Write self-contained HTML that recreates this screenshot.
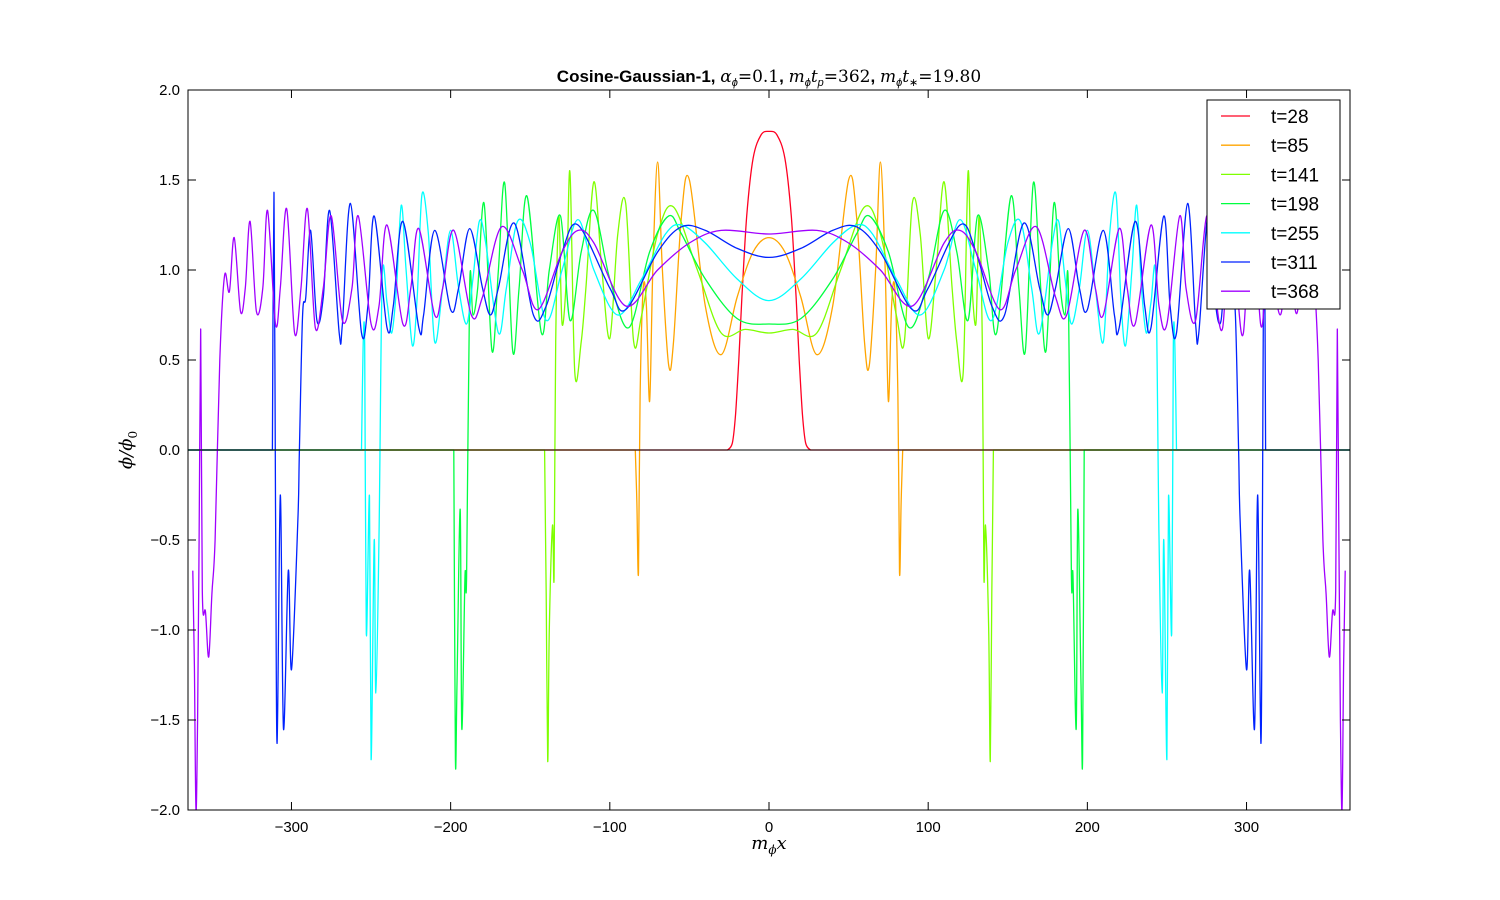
<!DOCTYPE html>
<html><head><meta charset="utf-8"><style>
body{margin:0;background:#fff;width:1500px;height:900px;overflow:hidden}
svg{display:block;font-family:"Liberation Sans","DejaVu Sans",sans-serif}
</style></head><body>
<svg id="chart" width="1500" height="900">
<rect width="1500" height="900" fill="#fff"/>
<g id="plot"></g>
<g id="axes"></g>
<text x="769" y="82" text-anchor="middle" font-size="17"><tspan font-weight="bold">Cosine-Gaussian-1, </tspan><tspan font-family="DejaVu Serif, serif" font-style="italic">α</tspan><tspan font-size="11" dy="4" font-style="italic">ϕ</tspan><tspan dy="-4" font-family="DejaVu Serif, serif">=0.1</tspan><tspan font-weight="bold">, </tspan><tspan font-family="DejaVu Serif, serif" font-style="italic">m</tspan><tspan font-size="11" dy="4" font-style="italic">ϕ</tspan><tspan dy="-4" font-family="DejaVu Serif, serif" font-style="italic">t</tspan><tspan font-size="11" dy="4" font-style="italic">p</tspan><tspan dy="-4" font-family="DejaVu Serif, serif">=362</tspan><tspan font-weight="bold">, </tspan><tspan font-family="DejaVu Serif, serif" font-style="italic">m</tspan><tspan font-size="11" dy="4" font-style="italic">ϕ</tspan><tspan dy="-4" font-family="DejaVu Serif, serif" font-style="italic">t</tspan><tspan font-size="11" dy="4">∗</tspan><tspan dy="-4" font-family="DejaVu Serif, serif">=19.80</tspan></text>
<text x="769" y="849" text-anchor="middle" font-size="18" font-family="DejaVu Serif, serif" font-style="italic">m<tspan font-size="12" dy="5">ϕ</tspan><tspan dy="-5">x</tspan></text>
<text transform="translate(132,450) rotate(-90)" text-anchor="middle" font-size="18" font-family="DejaVu Serif, serif" font-style="italic">ϕ/ϕ<tspan font-size="12" dy="5" font-style="normal">0</tspan></text>
<g id="legend"></g>
</svg>
<script>
const xTicks=[-300,-200,-100,0,100,200,300];
const yTicks=[-2.0,-1.5,-1.0,-0.5,0.0,0.5,1.0,1.5,2.0];
const labels=["t=28","t=85","t=141","t=198","t=255","t=311","t=368"];
const colors=["#ff0022","#ffa500","#7fff00","#00ff40","#00ffff","#0022ff","#a000ff"];
// half-profiles (x>=0), mirrored to negative x
const xs28=[0,5,10,14,17,19,21,23,26,365];
const ys28=[1.77,1.75,1.62,1.3,0.85,0.5,0.2,0.04,0,0];
const xs85=[0,10,20,30,40,50,55,60,63,67,70,73,75,77,79,81,82,83,84,365];
const ys85=[1.18,1.1,0.85,0.53,0.8,1.5,1.3,0.6,0.47,1.0,1.6,1.0,0.27,0.8,0.9,0.3,-0.68,-0.3,0,0];
const xs141=[0,15,30,45,60,70,80,85,90,95,100,105,110,115,118,122,125,127,130,132,134,135,136,138,139,140,141,365];
const ys141=[0.65,0.67,0.65,1.0,1.35,1.2,0.75,0.6,1.37,1.2,0.62,1.0,1.49,0.9,0.6,0.43,1.54,1.0,0.7,1.3,0.6,-0.7,-0.42,-1.0,-1.73,-0.8,0,0];
const xs198=[0,20,40,55,63,75,88,100,110,118,125,131,138,143,152,157,161,166,170,174,179,183,186,188,190,191,193,194,196,197,198,365];
const ys198=[0.7,0.73,0.95,1.2,1.3,1.1,0.68,0.95,1.33,1.1,0.72,1.3,1.0,0.65,1.41,0.9,0.55,1.48,1.0,0.55,1.37,0.9,0.75,0.92,-0.7,-0.7,-1.55,-0.33,-1.3,-1.71,0,0];
const xs255=[0,20,40,55,65,80,95,110,120,130,140,150,158,165,170,178,182,186,190,195,200,205,210,214,218,221,224,228,231,234,237,240,243,245,247,248,250,251,253,254,255,256,365];
const ys255=[0.83,0.95,1.15,1.25,1.2,0.95,0.75,1.0,1.28,1.0,0.72,1.15,1.27,0.9,0.65,1.15,1.27,0.95,0.7,0.9,1.22,0.9,0.6,1.2,1.42,0.85,0.58,1.0,1.36,0.9,0.65,0.82,0.95,-0.48,-1.35,-0.5,-1.72,-0.26,-1.02,0.57,0.57,0,0];
const xs311=[0,20,40,55,70,90,100,120,130,140,148,160,170,175,180,188,195,200,210,217,220,230,236,240,248,252,256,263,268,270,276,280,284,288,291,293,295,296,300,302,305,307,309,310,311,312,365];
const ys311=[1.07,1.12,1.22,1.24,1.1,0.78,0.9,1.25,1.1,0.8,0.75,1.26,0.9,0.75,0.9,1.23,0.9,0.78,1.22,0.75,0.68,1.27,0.8,0.68,1.3,0.8,0.65,1.37,0.7,0.65,1.33,0.85,0.72,1.22,0.85,0.75,0,-0.4,-1.22,-0.67,-1.55,-0.25,-1.63,-0.3,1.43,0,0];
const xs368=[0,30,50,70,90,110,120,130,145,155,168,180,187,198,205,210,220,225,230,240,245,250,258,262,268,275,280,285,290,294,298,303,307,310,315,318,322,326,329,332,336,339,342,345,348,350,352,354,356,357,358,359,360,361,362];
const ys368=[1.2,1.22,1.15,1.0,0.8,1.15,1.22,1.1,0.78,1.0,1.24,0.85,0.75,1.22,0.9,0.75,1.23,0.9,0.7,1.25,0.8,0.7,1.3,0.9,0.72,1.3,0.9,0.68,1.34,0.9,0.65,1.34,0.9,0.7,1.33,0.9,0.77,1.27,0.9,0.77,1.18,0.88,0.97,0.5,-0.5,-0.8,-1.15,-0.9,-0.78,0.67,-0.5,-1.5,-2.0,-1.2,-0.67];
const seriesX=[xs28,xs85,xs141,xs198,xs255,xs311,xs368];
const seriesY=[ys28,ys85,ys141,ys198,ys255,ys311,ys368];

const L=188,R=1350,T=90,B=810,XMIN=-365,XMAX=365,YMIN=-2,YMAX=2;
const sx=v=>L+(v-XMIN)/(XMAX-XMIN)*(R-L);
const sy=v=>B-(v-YMIN)/(YMAX-YMIN)*(B-T);
const NS="http://www.w3.org/2000/svg";
function mk(tag,attrs,parent){const e=document.createElementNS(NS,tag);for(const k in attrs)e.setAttribute(k,attrs[k]);parent.appendChild(e);return e;}
const LONG=50;
function smooth(p){ // Catmull-Rom, straight for long gaps
  let d='M'+p[0][0].toFixed(1)+','+p[0][1].toFixed(1);
  for(let i=0;i<p.length-1;i++){
    const p1=p[i],p2=p[i+1];
    if(p2[0]-p1[0]>LONG){d+=' L'+p2[0].toFixed(1)+','+p2[1].toFixed(1);continue;}
    let p0=p[i-1]||p1,p3=p[i+2]||p2;
    if(p1[0]-p0[0]>LONG)p0=p1;
    if(p3[0]-p2[0]>LONG)p3=p2;
    const k=1/6;
    let c1x=p1[0]+(p2[0]-p0[0])*k,c1y=p1[1]+(p2[1]-p0[1])*k;
    let c2x=p2[0]-(p3[0]-p1[0])*k,c2y=p2[1]-(p3[1]-p1[1])*k;
    c1x=Math.min(Math.max(c1x,p1[0]),p2[0]);c2x=Math.min(Math.max(c2x,p1[0]),p2[0]);
    d+=' C'+c1x.toFixed(1)+','+c1y.toFixed(1)+' '+c2x.toFixed(1)+','+c2y.toFixed(1)+' '+p2[0].toFixed(1)+','+p2[1].toFixed(1);
  }
  return d;
}
const plot=document.getElementById('plot'),axes=document.getElementById('axes'),leg=document.getElementById('legend');
const defs=mk('defs',{},plot);const cp=mk('clipPath',{id:'clip'},defs);mk('rect',{x:L,y:T,width:R-L,height:B-T},cp);
const g=mk('g',{'clip-path':'url(#clip)'},plot);
for(let i=0;i<seriesX.length;i++){
  const xs=seriesX[i],ys=seriesY[i];const pts=[];
  for(let j=xs.length-1;j>=0;j--){if(xs[j]>0)pts.push([sx(-xs[j]),sy(ys[j])]);}
  for(let j=0;j<xs.length;j++)pts.push([sx(xs[j]),sy(ys[j])]);
  const p=mk('path',{d:smooth(pts),fill:'none',stroke:colors[i],'stroke-width':1.3,'stroke-linejoin':'round'},g);
  
  
}
const zl=mk('line',{x1:L,x2:R,y1:sy(0),y2:sy(0),stroke:'#000','stroke-width':1},g);


const fr=mk('rect',{x:L,y:T,width:R-L,height:B-T,fill:'none',stroke:'#000','stroke-width':1},axes);


xTicks.forEach(v=>{const x=sx(v);
  mk('line',{x1:x,x2:x,y1:B,y2:B-8,stroke:'#000'},axes);mk('line',{x1:x,x2:x,y1:T,y2:T+8,stroke:'#000'},axes);
  const t=mk('text',{x:x,y:B+22,'text-anchor':'middle','font-size':15},axes);t.textContent=v<0?'\u2212'+(-v):v;
  
  });
yTicks.forEach(v=>{const y=sy(v);
  mk('line',{x1:L,x2:L+8,y1:y,y2:y,stroke:'#000'},axes);mk('line',{x1:R,x2:R-8,y1:y,y2:y,stroke:'#000'},axes);
  const t=mk('text',{x:L-8,y:y+5,'text-anchor':'end','font-size':15},axes);t.textContent=(v<0?'\u2212':'')+Math.abs(v).toFixed(1);
  
  });
const lb=mk('rect',{x:1207,y:100,width:133,height:209,fill:'#fff',stroke:'#000','stroke-width':1},leg);


labels.forEach((s,i)=>{const y=116+i*29.2;
  const e=mk('g',{},leg);
  
  
  mk('line',{x1:1221,x2:1250,y1:y,y2:y,stroke:colors[i],'stroke-width':1.3},e);
  const t=mk('text',{x:1271,y:y+7,'font-size':19},e);t.textContent=s;});
</script>
</body></html>
